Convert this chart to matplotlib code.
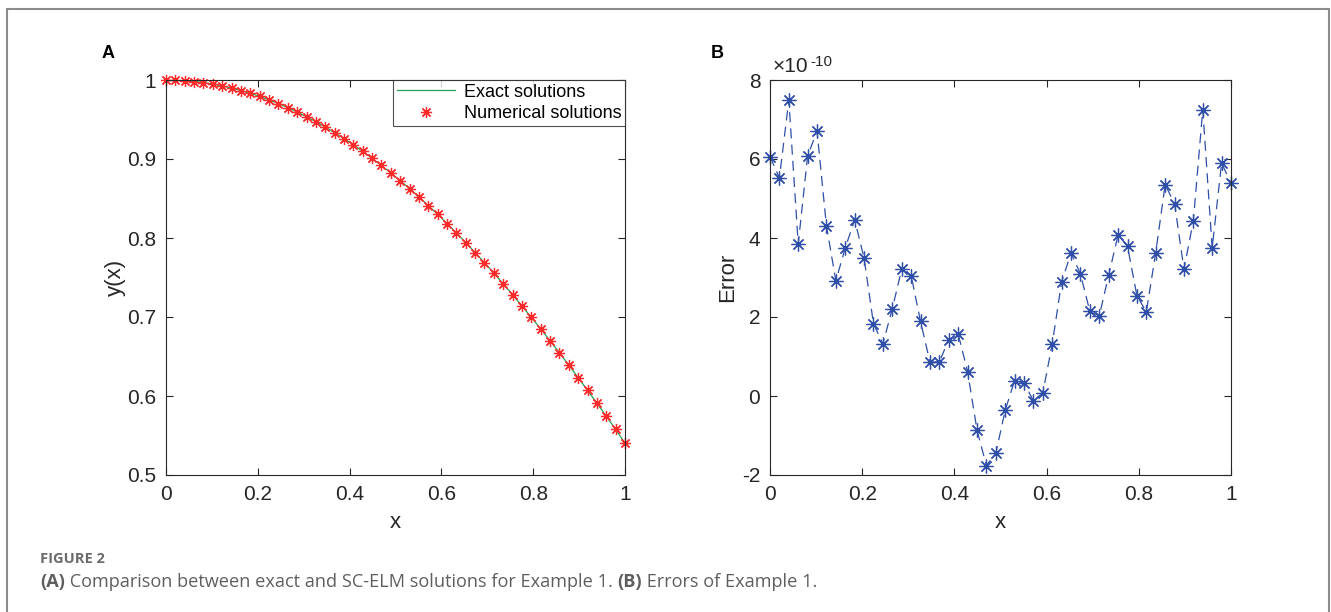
import numpy as np
import matplotlib
matplotlib.use('Agg')
import matplotlib.pyplot as plt
from matplotlib.patches import Rectangle
from matplotlib.ticker import FuncFormatter

plt.rcParams['font.family'] = ['Liberation Sans', 'DejaVu Sans']
plt.rcParams['axes.unicode_minus'] = False

# data
x = np.linspace(0, 1, 50)
exact = [1.0000, 0.9998, 0.9992, 0.9981, 0.9967, 0.9948, 0.9925, 0.9898, 0.9867, 0.9832,
         0.9793, 0.9749, 0.9702, 0.9650, 0.9595, 0.9535, 0.9472, 0.9404, 0.9333, 0.9258,
         0.9179, 0.9096, 0.9009, 0.8918, 0.8824, 0.8726, 0.8625, 0.8520, 0.8411, 0.8299,
         0.8183, 0.8064, 0.7942, 0.7816, 0.7687, 0.7555, 0.7420, 0.7282, 0.7140, 0.6996,
         0.6849, 0.6699, 0.6546, 0.6391, 0.6233, 0.6072, 0.5909, 0.5744, 0.5576, 0.5403]
numerical = list(exact)
# errors in units of 1e-10
error_e10 = [6.06, 5.52, 7.49, 3.85, 6.08, 6.71, 4.30, 2.92, 3.75, 4.46,
             3.49, 1.83, 1.32, 2.21, 3.21, 3.05, 1.89, 0.86, 0.86, 1.43,
             1.57, 0.62, -0.86, -1.76, -1.45, -0.36, 0.39, 0.33, -0.12, 0.08,
             1.32, 2.89, 3.62, 3.09, 2.14, 2.03, 3.06, 4.08, 3.79, 2.54,
             2.13, 3.63, 5.35, 4.87, 3.21, 4.44, 7.25, 3.75, 5.90, 5.38]
error = np.array(error_e10) * 1e-10

W, H = 1331, 612
fig = plt.figure(figsize=(W / 100, H / 100), dpi=100)

# outer frame
fig.patches.append(Rectangle((7 / W, -0.1), (1329 - 7) / W, 1 - 9 / H + 0.1,
                             transform=fig.transFigure, fill=False,
                             edgecolor='#8c8c8c', lw=1.5))

tick_col = '#262626'

def style(ax):
    ax.tick_params(direction='in', top=True, right=True, length=5, width=0.8,
                   labelsize=15, colors=tick_col, pad=7)
    for s in ax.spines.values():
        s.set_color('#262626')
        s.set_linewidth(0.8)

# panel A
axA = fig.add_axes([166 / W, 1 - 475 / H, (625 - 166) / W, (475 - 80) / H])
axA.plot(x, exact, color='#1fa355', lw=0.9, label='Exact solutions')
axA.plot(x, numerical, ls='none', marker=(8, 2, 0), ms=8, mew=0.9,
         color='#ff2a2a', label='Numerical solutions', clip_on=False)
axA.set_xlim(0, 1)
axA.set_ylim(0.5, 1)
axA.set_xticks([0, 0.2, 0.4, 0.6, 0.8, 1])
axA.set_yticks([0.5, 0.6, 0.7, 0.8, 0.9, 1])
axA.xaxis.set_major_formatter(FuncFormatter(lambda v, p: f'{v:g}'))
axA.yaxis.set_major_formatter(FuncFormatter(lambda v, p: f'{v:g}'))
style(axA)
axA.set_xlabel('x', fontsize=16, color=tick_col, labelpad=6)
axA.set_ylabel('y(x)', fontsize=16, color=tick_col, labelpad=1)
leg = axA.legend(loc='upper right', borderaxespad=0, fontsize=13, frameon=True,
                 fancybox=False, handlelength=3.2, handletextpad=0.5,
                 labelspacing=0.25, borderpad=0.2)
leg.get_frame().set_edgecolor('#262626')
leg.get_frame().set_linewidth(0.8)
for t in leg.get_texts():
    t.set_color('#000000')

# panel B
axB = fig.add_axes([770 / W, 1 - 475 / H, (1231 - 770) / W, (475 - 80) / H])
axB.plot(x, error, color='#2f4fa8', lw=0.9, ls=(0, (8, 5)),
         marker=(8, 2, 0), ms=10, mew=0.9, clip_on=False)
axB.set_xlim(0, 1)
axB.set_ylim(-2e-10, 8e-10)
axB.set_xticks([0, 0.2, 0.4, 0.6, 0.8, 1])
axB.set_yticks(np.array([-2, 0, 2, 4, 6, 8]) * 1e-10)
axB.xaxis.set_major_formatter(FuncFormatter(lambda v, p: f'{v:g}'))
axB.yaxis.set_major_formatter(FuncFormatter(lambda v, p: f'{round(v / 1e-10):d}'))
style(axB)
axB.set_xlabel('x', fontsize=16, color=tick_col, labelpad=6)
axB.set_ylabel('Error', fontsize=16, color=tick_col, labelpad=3)
axB.annotate('\u00d710', xy=(0, 1), xycoords='axes fraction', xytext=(2, 3),
             textcoords='offset points', fontsize=15, color=tick_col,
             ha='left', va='bottom')
axB.annotate('-10', xy=(0, 1), xycoords='axes fraction', xytext=(29, 8),
             textcoords='offset points', fontsize=11, color=tick_col,
             ha='left', va='bottom')

# panel letters
fig.text(108 / W, 1 - 53 / H, 'A', fontsize=13, fontweight='bold', ha='center', va='center')
fig.text(717 / W, 1 - 53 / H, 'B', fontsize=13, fontweight='bold', ha='center', va='center')

# caption
cap_font = ['Open Sans', 'DejaVu Sans']
fig.text(40 / W, 1 - 559 / H, 'FIGURE 2', fontsize=10.5, fontweight='bold',
         color='#6a6a6a', family=cap_font, va='center', ha='left')
pieces = [('(A)', 'bold'), (' Comparison between exact and SC-ELM solutions for Example 1. ', 'normal'),
          ('(B)', 'bold'), (' Errors of Example 1.', 'normal')]
renderer = fig.canvas.get_renderer()
xpos = 40
for txt, wt in pieces:
    t = fig.text(xpos / W, 1 - 582 / H, txt, fontsize=13.1, fontweight=wt,
                 color='#5e5e5e', family=cap_font, va='center', ha='left')
    bb = t.get_window_extent(renderer)
    xpos += bb.width

fig.savefig('out.png', dpi=100)
